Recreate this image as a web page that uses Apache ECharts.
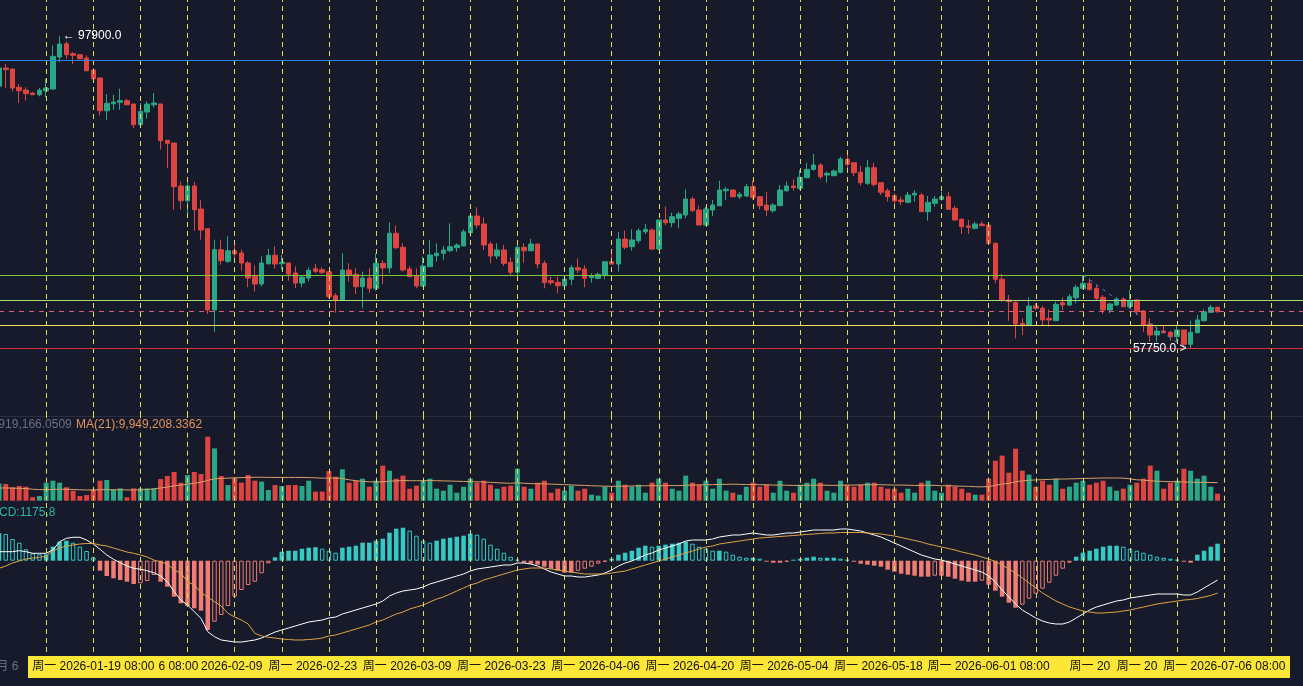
<!DOCTYPE html>
<html>
<head>
<meta charset="utf-8">
<title>K线</title>
<script src="https://cdn.jsdelivr.net/npm/echarts@6/dist/echarts.min.js"></script>
<style>
  html, body { margin: 0; padding: 0; background: #161a2b; }
  #main { width: 1303px; height: 686px; }
</style>
</head>
<body>
<div id="main"></div>
<script>
// 日K数据 [开, 收, 低, 高]
var candles = [
  [91440,93790,91220,94050],[93790,93570,91220,94300],[93660,91220,90790,93700],[91310,90870,89290,91730],
  [90960,90490,89590,91310],[90580,90360,90320,90700],[90360,90960,90150,91220],[90870,91220,90020,92410],
  [91090,95290,91000,96700],[95200,96870,94520,97900],[96910,95500,94980,97220],[95630,95420,94300,95810],
  [95500,94980,94910,95590],[95070,93440,93360,95420],[93530,92410,91860,93790],[92500,88300,87710,92590],
  [88300,89250,87140,90450],[89200,89420,88430,90360],[89380,89590,88430,91130],[89590,89070,88990,89840],
  [89160,86500,86080,89200],[86500,88220,86080,89290],[88130,89160,87270,89510],[89070,89290,88740,90580],
  [89160,84450,83290,89200],[84500,84110,80940,84520],[84150,78540,75580,84170],[78630,76740,75580,79230],
  [76740,78630,74940,79140],[78630,75580,72880,79140],[75670,72970,71730,76790],[73140,62690,62180,73160],
  [62690,70440,59860,71730],[70440,69030,68510,71730],[68950,70310,68730,72160],[70310,69890,69370,71300],
  [70020,68730,67740,70440],[68730,66800,65610,68950],[67020,66030,65090,68430],[66030,68730,65740,69590],
  [68640,69720,68510,70530],[69720,68600,68000,70880],[68640,68820,67870,69800],[68730,67320,66460,68750],
  [67450,66160,65520,68310],[66160,66930,65610,67150],[66800,67790,66380,68180],[68000,67660,67450,68600],
  [67870,67540,67320,68180],[67610,64400,64190,67630],[64530,63980,62340,64840],[63980,67830,63960,69980],
  [67830,67190,66330,68690],[67280,65690,64750,68050],[65690,66800,62910,67630],[66800,65480,64910,68050],
  [65480,68690,65170,69980],[68690,68090,66030,69120],[68090,72550,67410,73960],[72550,70700,70490,73520],
  [70750,67830,67630,71260],[67960,66970,66890,68350],[67100,65780,65480,68050],[65780,68350,65690,69540],
  [68260,69760,68240,71690],[69670,69980,68900,71260],[69980,70400,69120,70920],[70310,70820,70180,73830],
  [70700,71040,70180,71260],[70920,72750,70900,73060],[72620,74770,72110,75030],[74770,73610,73190,75890],
  [73740,71040,70400,74600],[71170,69630,68690,71470],[69630,70400,69240,71260],[70400,68690,68350,71040],
  [68820,67540,67190,69460],[67540,70750,67190,71690],[70750,70310,68770,71260],[70310,71170,70290,71850],
  [71170,68600,68050,71190],[68690,66200,65480,69030],[66460,66200,65900,66970],[66250,65810,64840,66970],
  [65810,66670,65690,67190],[66640,68130,65900,68470],[68130,67830,67410,69330],[67960,66760,65610,68470],
  [66840,67060,66200,67410],[66760,67280,66640,67480],[67190,68900,66640,68920],[68900,68600,68470,70180],
  [68600,71810,67630,72750],[71810,70750,70490,72880],[70820,71690,70310,73060],[71600,72880,71260,73190],
  [72750,73060,72460,73740],[72970,70530,70400,73190],[70530,74260,70400,74280],[74260,73910,73610,75970],
  [73910,74680,73320,75190],[74470,75030,73190,75320],[74900,76950,74470,78200],[76950,75450,75320,77250],
  [75540,73610,73590,76090],[73610,75670,73490,75970],[75540,76180,74770,76830],[76090,78110,76070,79310],
  [78020,78200,76830,78540],[78110,77250,77170,78220],[77250,77560,76950,77890],[77340,78540,77230,78880],
  [78540,77170,76920,79310],[77250,76090,75630,77340],[76180,75540,74770,77890],[75450,76180,75190,76400],
  [76090,78110,76070,78750],[78020,78630,77890,79180],[78630,78410,78020,79490],[78330,79740,78110,80680],
  [79690,80770,79610,81620],[80770,81320,80590,82740],[81320,79820,79490,81540],[80040,80260,79050,80460],
  [79950,80550,79910,80770],[80390,82090,80260,82390],[82090,81410,80330,82610],[81620,80330,79910,81640],
  [80390,79050,78660,81200],[78970,80980,78750,81970],[80980,78840,78540,81620],[79050,77820,77470,79070],
  [78020,77250,76610,78330],[77380,76700,75970,77690],[76830,76610,76180,77250],[76530,77470,76400,77890],
  [77470,77690,76610,78110],[77470,75320,75300,77760],[75320,76530,74170,77340],[76400,76950,75970,77340],
  [76920,77250,76740,77890],[77250,75630,75610,77890],[75760,74260,74170,76060],[74350,73400,72460,74470],
  [73490,73320,72460,74260],[73190,73740,73060,74040],[73740,73520,73490,74040],[73610,71260,71170,73830],
  [71260,66640,66120,71340],[66640,63980,63760,67320],[63980,63760,61320,64620],[63680,60890,59050,63780],
  [60980,60760,59480,61620],[60760,63200,60740,64320],[63200,62910,62690,63550],[62910,61410,60760,63210],
  [61620,61410,60540,62780],[61320,63420,61300,63760],[63630,63330,62690,64320],[63330,64400,63200,64750],
  [64270,65610,63550,65900],[65480,66120,65350,67190],[66120,65350,65170,66760],[65480,64190,63980,65900],
  [64320,62690,62180,64620],[62690,63460,62270,63630],[63330,64100,63200,64320],[64100,63120,63040,64320],
  [63120,63890,62910,65260],[63980,62470,62050,64070],[62560,60760,59900,62690],[60890,59480,58620,61620],
  [59480,59990,58620,60540],[59990,59770,59700,60760],[59830,59260,58750,60030],[59260,60120,58620,60760],
  [60120,58280,57870,60140],[58280,59830,57750,61320],[59770,61410,59700,62050],[61320,62470,61190,62780],
  [62390,63040,62270,63330],[63040,62470,62340,63120]
];

// 成交量（百万）
var volumes = [
  9.4,9.2,7.4,8.1,7.7,1.9,2.6,9.9,11.0,9.9,7.4,5.5,2.6,3.1,6.3,11.0,11.4,6.3,6.8,1.9,
  6.8,6.8,6.8,6.8,11.9,13.6,15.8,9.9,14.1,15.8,14.7,35.2,28.8,13.6,8.6,12.3,9.9,14.1,11.0,10.5,
  5.9,8.6,8.1,8.6,8.6,8.1,11.0,5.0,5.0,16.3,13.2,17.3,9.9,11.0,12.1,7.7,11.0,19.3,16.5,12.1,
  13.8,6.6,8.3,11.0,12.1,6.6,5.5,8.8,4.4,7.7,12.1,9.9,11.0,8.8,6.6,7.7,8.3,17.6,7.7,6.6,
  9.9,11.0,4.4,6.6,5.5,8.3,5.5,6.6,3.3,2.8,7.7,4.4,11.0,8.8,7.7,8.8,4.4,9.9,12.1,9.9,
  6.6,5.5,13.8,9.9,8.8,11.0,6.6,12.1,5.5,4.4,3.3,7.7,9.9,7.7,8.8,4.4,11.0,5.5,4.4,8.8,
  9.9,12.1,9.9,5.5,4.4,11.0,8.8,7.7,8.8,9.9,9.9,7.7,6.6,6.6,4.4,6.6,4.4,9.9,11.0,5.5,
  4.4,8.8,7.7,6.6,4.4,3.3,3.3,12.1,22.0,24.8,15.4,28.6,16.5,14.3,7.7,11.0,8.8,12.1,6.6,7.7,
  9.9,11.0,8.8,9.9,11.0,7.7,5.5,6.6,8.8,9.9,12.1,19.3,16.5,6.6,9.9,11.0,17.6,16.5,12.1,13.8,
  7.7,3.9
];

// MA(21) 成交量均线（百万）
var volumeMA = [
  7.0,7.0,6.9,6.8,6.7,6.3,6.1,6.1,6.2,6.3,6.3,6.2,6.0,5.9,5.9,6.0,6.1,6.0,6.0,5.9,
  5.9,6.0,6.1,6.5,7.0,7.5,8.2,8.6,9.1,9.6,10.2,11.2,12.0,12.3,12.4,12.6,12.7,12.8,12.9,12.9,
  12.8,12.8,12.8,12.8,12.8,12.8,12.7,12.6,12.4,12.5,12.5,12.2,11.5,11.0,10.6,10.4,10.3,10.4,10.7,10.9,
  11.1,11.0,11.0,11.0,11.1,11.0,10.9,10.8,10.7,10.6,10.5,10.4,10.3,10.1,9.9,9.7,9.6,9.8,9.6,9.4,
  9.3,9.3,9.1,9.0,8.8,8.7,8.5,8.4,8.2,8.1,8.0,7.9,8.0,8.0,8.1,8.2,8.2,8.3,8.2,8.3,
  8.3,8.3,8.5,8.6,8.7,8.8,8.8,9.0,9.0,9.1,9.0,8.9,8.9,8.8,8.8,8.6,8.6,8.5,8.4,8.4,
  8.5,8.5,8.6,8.5,8.4,8.5,8.6,8.6,8.7,8.8,8.8,8.8,8.7,8.6,8.6,8.5,8.4,8.4,8.5,8.4,
  8.2,8.2,8.1,8.0,7.9,7.7,7.6,7.8,8.4,9.2,9.5,10.4,10.9,11.3,11.4,11.6,11.7,11.9,11.9,12.0,
  12.1,12.2,12.3,12.4,12.5,12.5,12.5,12.4,12.0,11.5,11.3,11.0,10.7,10.6,10.5,10.4,10.3,10.2,10.1,10.1,
  10.0,9.9
];

// MACD 柱
var macdHist = [
  1891,1842,1497,1242,787,511,442,442,966,1311,1380,1242,966,669,235,-690,-1056,-1214,-1332,-1449,
  -1608,-1559,-1401,-987,-1449,-1794,-2484,-2939,-3126,-3284,-3450,-4782,-4209,-3747,-3126,-2484,-2022,-1677,-1449,-869,
  -179,235,621,690,690,828,897,932,828,690,552,897,966,1035,1242,1242,1380,1518,1932,2208,
  2277,2070,1725,1380,1242,1380,1518,1587,1656,1725,1863,1794,1518,1104,828,552,276,69,-138,-207,
  -276,-414,-552,-690,-828,-828,-690,-552,-414,-207,-69,138,414,552,690,897,1035,966,1035,1104,
  1173,1242,1311,1173,966,828,690,690,621,414,276,207,207,138,-69,-138,-138,-69,69,138,
  207,276,207,207,207,138,69,-69,-207,-276,-345,-414,-621,-759,-897,-966,-1035,-1104,-1104,-1035,
  -1035,-1104,-1242,-1380,-1449,-1449,-1380,-1656,-2070,-2484,-2898,-3243,-3036,-2622,-2277,-1932,-1518,-1035,-552,-138,
  276,552,690,828,966,1035,1035,966,828,690,552,414,276,207,138,69,-69,-138,414,690,
  966,1175.8
];

var macdDif = [
  621,621,621,690,621,511,511,511,738,1311,1546,1615,1615,1428,1152,787,393,97,-138,-366,
  -524,-593,-690,-828,-1056,-1449,-2139,-2712,-3057,-3519,-3974,-4899,-5244,-5472,-5541,-5610,-5610,-5541,-5472,-5334,
  -5127,-4920,-4782,-4644,-4506,-4368,-4230,-4161,-4092,-3954,-3885,-3678,-3540,-3402,-3264,-3126,-2988,-2781,-2436,-2229,
  -2091,-2022,-1953,-1815,-1608,-1470,-1332,-1194,-1056,-918,-711,-573,-504,-435,-366,-297,-297,-159,-159,-228,
  -366,-573,-780,-918,-1056,-1056,-1125,-1125,-1056,-987,-849,-642,-366,-159,-21,186,393,531,738,876,
  1014,1152,1359,1428,1428,1428,1497,1635,1704,1773,1773,1842,1911,1842,1773,1773,1842,1911,1911,1980,
  2049,2118,2118,2118,2118,2187,2187,2118,2049,1911,1773,1635,1428,1221,1014,807,600,393,255,117,
  48,-90,-228,-366,-504,-642,-780,-1056,-1470,-2022,-2505,-2988,-3402,-3678,-3954,-4161,-4299,-4368,-4368,-4230,
  -3954,-3678,-3402,-3195,-3057,-2919,-2781,-2712,-2574,-2505,-2436,-2367,-2298,-2298,-2298,-2298,-2367,-2367,-2160,-1884,
  -1608,-1332
];

var macdDea = [
  -524,-366,-159,-21,117,186,221,324,669,876,1014,1083,1152,1187,1187,1083,1014,876,738,600,
  511,393,255,48,-90,-228,-642,-849,-1449,-1677,-2208,-2505,-2829,-3126,-3629,-3885,-4092,-4368,-5009,-5196,
  -5285,-5334,-5403,-5437,-5472,-5472,-5437,-5403,-5334,-5196,-5127,-4989,-4851,-4713,-4575,-4437,-4230,-4092,-3885,-3678,
  -3540,-3333,-3195,-3057,-2850,-2643,-2505,-2298,-2091,-1884,-1677,-1539,-1332,-1194,-1056,-918,-780,-642,-573,-504,
  -504,-504,-573,-642,-711,-780,-849,-918,-918,-918,-918,-849,-780,-711,-573,-435,-297,-159,-21,117,
  255,393,531,669,807,945,1014,1152,1221,1290,1359,1428,1497,1566,1601,1635,1670,1704,1739,1773,
  1808,1842,1877,1911,1911,1946,1946,1946,1946,1911,1877,1842,1773,1704,1601,1497,1394,1290,1152,1049,
  945,842,738,600,497,393,255,117,-55,-297,-573,-849,-1194,-1539,-1884,-2229,-2505,-2781,-2988,-3195,
  -3333,-3471,-3540,-3609,-3609,-3574,-3540,-3471,-3402,-3298,-3195,-3091,-2988,-2919,-2850,-2781,-2712,-2677,-2608,-2505,
  -2401,-2229
];

// 水平画线
var levelLines = [94800, 67200, 64000, 60750, 57750];
var levelColors = ['#2f80e0', '#7cc43e', '#a6dc7a', '#f0e25c', '#d9313d'];
var lastPrice = 62470;
// 趋势线两端 [日期序号, 价格]
var trendLine = [[161, 67190], [176, 57870]];

// 横轴标签：[文字, 相对刻度的水平偏移]
var tickLabels = {
  '2026-01-05': ['1月 6', 5],
  '2026-01-19': ['周一 2026-01-19 08:00', 0],
  '2026-01-26': ['6 08:00', 38],
  '2026-02-09': ['2026-02-09', -3],
  '2026-02-23': ['周一 2026-02-23', -16],
  '2026-03-09': ['周一 2026-03-09', -16],
  '2026-03-23': ['周一 2026-03-23', -16],
  '2026-04-06': ['周一 2026-04-06', -16],
  '2026-04-20': ['周一 2026-04-20', -16],
  '2026-05-04': ['周一 2026-05-04', -16],
  '2026-05-18': ['周一 2026-05-18', -16],
  '2026-06-01': ['周一 2026-06-01 08:00', 0],
  '2026-06-15': ['周一 20', 7],
  '2026-06-22': ['周一 20', 7],
  '2026-07-06': ['周一 2026-07-06 08:00', 0]
};

var dates = [];
for (var i = 0; i < 195; i++) {
  dates.push(new Date(Date.UTC(2026, 0, 5 + i)).toISOString().slice(0, 10));
}
// 每周一竖线
var weekLines = dates.filter(function (d, i) { return i % 7 === 0; });

var UP = '#2aa784', DOWN = '#de4540';
var BG = '#161a2b';
var WEEK_COLOR = '#e3da5e';
var FONT = 'Liberation Sans, Arial, Noto Sans CJK SC, sans-serif';

var myChart = echarts.init(document.getElementById('main'));

var gridBase = { left: -0.95, width: 1306, outerBoundsMode: 'none', containLabel: false };

var richStyles = {};
var labelKeys = {};
Object.keys(tickLabels).forEach(function (d, n) {
  var shift = tickLabels[d][1];
  var key = 't' + n;
  labelKeys[d] = key;
  richStyles[key] = {
    color: d === '2026-01-05' ? '#6c7080' : '#111111',
    fontSize: 12, fontFamily: FONT,
    padding: [0, shift < 0 ? -2 * shift : 0, 0, shift > 0 ? 2 * shift : 0]
  };
});

function xAxisFor(gi, showLabel) {
  return {
    type: 'category', gridIndex: gi, data: dates, boundaryGap: false,
    axisLine: { show: gi === 0, lineStyle: { color: '#2a2e3e' } },
    axisTick: { show: false },
    splitLine: { show: false },
    axisLabel: showLabel ? {
      show: true,
      margin: 9,
      interval: function (idx, val) { return tickLabels[val] !== undefined; },
      formatter: function (val) {
        var t = tickLabels[val];
        if (t === undefined) return '';
        return '{' + labelKeys[val] + '|' + t[0] + '}';
      },
      rich: richStyles
    } : { show: false }
  };
}

function weekMarkLine() {
  return {
    symbol: 'none', silent: true, label: { show: false }, emphasis: { disabled: true },
    lineStyle: { color: WEEK_COLOR, type: [5, 4], width: 1 },
    data: weekLines.map(function (d) { return { xAxis: d }; })
  };
}

var volColors = candles.map(function (c) { return c[1] >= c[0] ? UP : DOWN; });

var histData = macdHist.map(function (v, i) {
  var prev = i > 0 ? macdHist[i - 1] : 0;
  var pos = v >= 0;
  var filled = pos ? v >= prev : v <= prev;
  var col = pos ? '#35c9c4' : '#f07c74';
  return {
    value: v,
    itemStyle: filled ? { color: col, borderColor: col, borderWidth: 0 }
                      : { color: 'rgba(0,0,0,0)', borderColor: col, borderWidth: 1 }
  };
});

var mainLines = weekLines.map(function (d) {
  return { xAxis: d, lineStyle: { color: WEEK_COLOR, type: [5, 4], width: 1 } };
});
levelLines.forEach(function (v, i) {
  mainLines.push({ yAxis: v, lineStyle: { color: levelColors[i], type: 'solid', width: 1 } });
});
mainLines.push({ yAxis: lastPrice, lineStyle: { color: '#d8607c', type: [5, 5], width: 1 } });
mainLines.push([
  { coord: [dates[trendLine[0][0]], trendLine[0][1]], lineStyle: { color: '#3f78c8', type: [4, 4], width: 1 } },
  { coord: [dates[trendLine[1][0]], trendLine[1][1]] }
]);

option = {
  backgroundColor: BG,
  animation: false,
  title: [
    { text: 'VOL:3,919,166.0509', left: -39, top: 418, padding: [1, 3, 1, 0], backgroundColor: BG,
      textStyle: { color: '#6c7080', fontSize: 12, fontWeight: 'normal', fontFamily: FONT } },
    { text: 'MA(21):9,949,208.3362', left: 76, top: 418, padding: [1, 3, 1, 0], backgroundColor: BG,
      textStyle: { color: '#e2935c', fontSize: 12, fontWeight: 'normal', fontFamily: FONT } },
    { text: 'MACD:1175.8', left: -19, top: 507, padding: 0,
      textStyle: { color: '#2fb3a6', fontSize: 12, fontWeight: 'normal', fontFamily: FONT } }
  ],
  graphic: [
    { type: 'rect', z: -1, shape: { x: 28, y: 656, width: 1262, height: 22 }, style: { fill: '#fce737' } }
  ],
  grid: [
    Object.assign({ top: 0, height: 416 }, gridBase),
    Object.assign({ top: 416, height: 84.7 }, gridBase),
    Object.assign({ top: 500.7, height: 151.3 }, gridBase)
  ],
  xAxis: [xAxisFor(0, false), xAxisFor(1, false), xAxisFor(2, true)],
  yAxis: [
    { gridIndex: 0, min: 49070, max: 102530, show: false, splitLine: { show: false } },
    { gridIndex: 1, min: 0, max: 46.6, show: false, splitLine: { show: false } },
    { gridIndex: 2, min: -6300, max: 4140, show: false, splitLine: { show: false } }
  ],
  series: [
    {
      name: 'K线', type: 'candlestick', xAxisIndex: 0, yAxisIndex: 0,
      data: candles, barWidth: 5,
      itemStyle: { color: UP, color0: DOWN, borderColor: UP, borderColor0: DOWN, borderWidth: 1 },
      markPoint: {
        symbol: 'circle', symbolSize: 2, silent: true,
        itemStyle: { color: 'rgba(0,0,0,0)' },
        data: [
          { type: 'max', valueDim: 'highest',
            label: { show: true, position: 'right', distance: 2, color: '#ffffff', fontSize: 12, fontFamily: FONT,
              formatter: function (p) { return '← ' + p.value.toFixed(1); } } },
          { type: 'min', valueDim: 'lowest',
            label: { show: true, position: 'left', distance: 3, color: '#ffffff', fontSize: 12, fontFamily: FONT,
              formatter: function (p) { return p.value.toFixed(1) + ' >'; } } }
        ]
      },
      markLine: { symbol: 'none', silent: true, label: { show: false }, emphasis: { disabled: true }, data: mainLines }
    },
    {
      name: '成交量', type: 'bar', xAxisIndex: 1, yAxisIndex: 1,
      data: volumes, barWidth: 5,
      itemStyle: { color: function (p) { return volColors[p.dataIndex]; } },
      markLine: weekMarkLine()
    },
    {
      name: 'MA(21)', type: 'line', xAxisIndex: 1, yAxisIndex: 1,
      data: volumeMA, symbol: 'none', smooth: false,
      lineStyle: { color: '#d9a066', width: 1 }
    },
    {
      name: 'MACD', type: 'bar', xAxisIndex: 2, yAxisIndex: 2,
      data: histData, barWidth: 4.5,
      markLine: weekMarkLine()
    },
    {
      name: 'DIF', type: 'line', xAxisIndex: 2, yAxisIndex: 2,
      data: macdDif, symbol: 'none', lineStyle: { color: '#ffffff', width: 1 }
    },
    {
      name: 'DEA', type: 'line', xAxisIndex: 2, yAxisIndex: 2,
      data: macdDea, symbol: 'none', lineStyle: { color: '#e0a446', width: 1 }
    }
  ]
};

myChart.setOption(option);
</script>
</body>
</html>
